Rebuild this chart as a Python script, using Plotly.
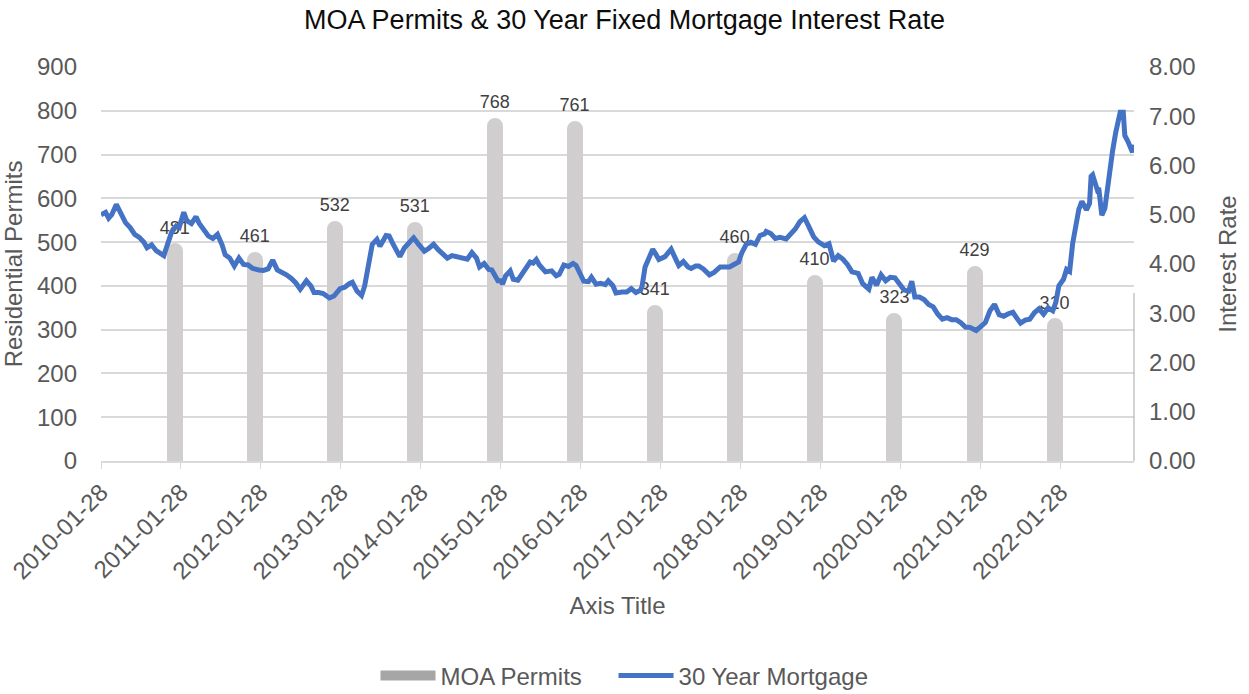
import plotly.graph_objects as go

# ---------------- data ----------------
bar_dates = ["2010-12-31", "2011-12-31", "2012-12-31", "2013-12-31", "2014-12-31", "2015-12-31",
             "2016-12-31", "2017-12-31", "2018-12-31", "2019-12-31", "2020-12-31", "2021-12-31"]
permits = [481, 461, 532, 531, 768, 761, 341, 460, 410, 323, 429, 310]

rate_dates = [
    "2010-01-28", "2010-02-18", "2010-03-04", "2010-03-18", "2010-04-08", "2010-04-29", "2010-05-20",
    "2010-06-10", "2010-07-01", "2010-07-22", "2010-08-12", "2010-08-26", "2010-09-16", "2010-10-07",
    "2010-10-28", "2010-11-11", "2010-11-25", "2010-12-16", "2011-01-06", "2011-01-20", "2011-02-10",
    "2011-02-24", "2011-03-17", "2011-04-07", "2011-04-21", "2011-05-12", "2011-06-02", "2011-06-23",
    "2011-07-14", "2011-08-04", "2011-08-18", "2011-09-08", "2011-09-29", "2011-10-20", "2011-11-10",
    "2011-12-01", "2011-12-22", "2012-01-19", "2012-02-09", "2012-03-01", "2012-03-22", "2012-04-12",
    "2012-05-03", "2012-05-24", "2012-06-14", "2012-07-05", "2012-07-26", "2012-08-23", "2012-09-13",
    "2012-09-27", "2012-10-18", "2012-11-08", "2012-12-06", "2012-12-27", "2013-01-24", "2013-02-14",
    "2013-03-07", "2013-03-21", "2013-04-11", "2013-05-02", "2013-05-16", "2013-05-30", "2013-06-20",
    "2013-07-11", "2013-07-25", "2013-08-22", "2013-09-05", "2013-09-19", "2013-10-10", "2013-10-24",
    "2013-11-14", "2013-12-05", "2013-12-26", "2014-01-16", "2014-02-13", "2014-03-06", "2014-03-27",
    "2014-04-17", "2014-05-08", "2014-05-29", "2014-06-19", "2014-07-17", "2014-08-07", "2014-08-28",
    "2014-09-18", "2014-10-09", "2014-10-23", "2014-11-13", "2014-12-04", "2014-12-18", "2015-01-15",
    "2015-01-29", "2015-02-05", "2015-02-19", "2015-03-12", "2015-03-26", "2015-04-16", "2015-05-07",
    "2015-06-11", "2015-06-25", "2015-07-09", "2015-07-23", "2015-08-20", "2015-09-17", "2015-10-08",
    "2015-10-22", "2015-11-12", "2015-12-03", "2015-12-24", "2016-01-07", "2016-01-28", "2016-02-11",
    "2016-03-03", "2016-03-17", "2016-04-07", "2016-04-28", "2016-05-19", "2016-06-02", "2016-06-23",
    "2016-07-07", "2016-08-04", "2016-08-25", "2016-09-15", "2016-10-06", "2016-10-27", "2016-11-03",
    "2016-11-17", "2016-12-01", "2016-12-22", "2017-01-05", "2017-01-19", "2017-02-16", "2017-03-16",
    "2017-04-06", "2017-04-20", "2017-05-11", "2017-06-01", "2017-06-15", "2017-07-06", "2017-07-20",
    "2017-08-10", "2017-09-07", "2017-09-28", "2017-10-26", "2017-11-16", "2017-12-07", "2017-12-28",
    "2018-01-18", "2018-02-01", "2018-02-22", "2018-03-15", "2018-04-05", "2018-04-26", "2018-05-17",
    "2018-05-24", "2018-06-14", "2018-07-05", "2018-07-26", "2018-08-23", "2018-09-13", "2018-10-04",
    "2018-10-25", "2018-11-15", "2018-12-06", "2018-12-27", "2019-01-17", "2019-02-14", "2019-03-07",
    "2019-03-28", "2019-04-18", "2019-05-09", "2019-05-30", "2019-06-20", "2019-07-18", "2019-08-08",
    "2019-09-05", "2019-09-19", "2019-10-10", "2019-10-31", "2019-11-21", "2019-12-12", "2020-01-02",
    "2020-01-23", "2020-02-13", "2020-03-05", "2020-03-19", "2020-04-02", "2020-04-23", "2020-05-14",
    "2020-06-04", "2020-06-25", "2020-07-16", "2020-08-06", "2020-08-27", "2020-09-17", "2020-10-08",
    "2020-10-29", "2020-11-19", "2020-12-10", "2021-01-07", "2021-01-28", "2021-02-18", "2021-03-11",
    "2021-04-01", "2021-04-22", "2021-05-13", "2021-06-03", "2021-06-24", "2021-07-15", "2021-07-29",
    "2021-08-19", "2021-09-09", "2021-09-30", "2021-10-21", "2021-11-11", "2021-12-02", "2021-12-23",
    "2022-01-06", "2022-01-20", "2022-02-10", "2022-02-24", "2022-03-10", "2022-03-24", "2022-04-07",
    "2022-04-21", "2022-05-05", "2022-05-26", "2022-06-09", "2022-06-16", "2022-06-23", "2022-06-30",
    "2022-07-14", "2022-07-21", "2022-07-28", "2022-08-04", "2022-08-18", "2022-09-01", "2022-09-22",
    "2022-10-06", "2022-10-20", "2022-10-27", "2022-11-10", "2022-11-17", "2022-12-01", "2022-12-15",
    "2022-12-22", "2022-12-29",
]
rates = [
    5.00, 5.05, 4.93, 5.00, 5.21, 5.02, 4.84,
    4.74, 4.60, 4.54, 4.44, 4.33, 4.39, 4.27,
    4.19, 4.17, 4.36, 4.64, 4.77, 4.74, 5.05,
    4.88, 4.82, 4.96, 4.83, 4.68, 4.57, 4.52,
    4.60, 4.39, 4.19, 4.12, 3.96, 4.12, 3.99,
    3.98, 3.91, 3.88, 3.87, 3.90, 4.08, 3.88,
    3.84, 3.78, 3.71, 3.62, 3.49, 3.66, 3.55,
    3.42, 3.42, 3.40, 3.31, 3.35, 3.50, 3.53,
    3.60, 3.63, 3.45, 3.36, 3.55, 3.90, 4.40,
    4.50, 4.36, 4.58, 4.57, 4.44, 4.25, 4.15,
    4.33, 4.45, 4.53, 4.41, 4.26, 4.32, 4.40,
    4.29, 4.21, 4.12, 4.17, 4.15, 4.14, 4.10,
    4.23, 4.12, 3.94, 4.01, 3.89, 3.88, 3.66,
    3.66, 3.59, 3.76, 3.86, 3.69, 3.67, 3.80,
    4.04, 4.02, 4.09, 3.98, 3.84, 3.86, 3.76,
    3.79, 3.98, 3.95, 4.01, 3.97, 3.79, 3.65,
    3.64, 3.73, 3.59, 3.61, 3.58, 3.66, 3.56,
    3.41, 3.43, 3.43, 3.50, 3.42, 3.47, 3.54,
    3.94, 4.08, 4.30, 4.20, 4.09, 4.15, 4.30,
    4.10, 3.97, 4.05, 3.94, 3.91, 3.96, 3.96,
    3.90, 3.78, 3.83, 3.94, 3.95, 3.94, 3.99,
    4.04, 4.22, 4.40, 4.44, 4.40, 4.58, 4.61,
    4.66, 4.62, 4.52, 4.54, 4.51, 4.60, 4.71,
    4.86, 4.94, 4.75, 4.55, 4.45, 4.37, 4.41,
    4.06, 4.17, 4.10, 3.99, 3.84, 3.81, 3.60,
    3.49, 3.73, 3.57, 3.78, 3.66, 3.73, 3.72,
    3.60, 3.47, 3.45, 3.65, 3.33, 3.33, 3.28,
    3.18, 3.13, 2.98, 2.88, 2.91, 2.87, 2.87,
    2.81, 2.72, 2.71, 2.65, 2.73, 2.81, 3.05,
    3.18, 2.97, 2.94, 2.99, 3.02, 2.88, 2.80,
    2.86, 2.88, 3.01, 3.09, 2.98, 3.11, 3.05,
    3.22, 3.56, 3.69, 3.89, 3.85, 4.42, 4.72,
    5.11, 5.27, 5.10, 5.23, 5.78, 5.81, 5.70,
    5.51, 5.54, 5.30, 4.99, 5.13, 5.66, 6.29,
    6.66, 6.94, 7.08, 7.08, 6.61, 6.49, 6.31,
    6.27, 6.42,
]

tick_dates = ["2010-01-28", "2011-01-28", "2012-01-28", "2013-01-28", "2014-01-28", "2015-01-28",
              "2016-01-28", "2017-01-28", "2018-01-28", "2019-01-28", "2020-01-28", "2021-01-28",
              "2022-01-28"]
permit_ticks = [0, 100, 200, 300, 400, 500, 600, 700, 800, 900]
rate_ticks = [0, 1, 2, 3, 4, 5, 6, 7, 8]

# ---------------- styling ----------------
FONT = "Arial, 'Liberation Sans', sans-serif"
GREY_TXT = "#595959"
GRID = "#d9d9d9"
BAR = "#d0cece"
BLUE = "#4472c4"
DAY_MS = 86400000
NB = "\u00a0"

fig = go.Figure()

fig.add_trace(go.Bar(
    x=bar_dates, y=permits, name="MOA Permits", showlegend=False,
    width=9 * DAY_MS,
    marker=dict(color=BAR, line=dict(color=BAR, width=14), cornerradius=1),
    hoverinfo="x+y",
))
# data labels for permits (drawn beneath the rate line)
fig.add_trace(go.Scatter(
    x=bar_dates, y=permits, mode="markers+text", showlegend=False,
    text=[str(v) for v in permits], textposition="top center",
    textfont=dict(family=FONT, size=18, color="#404040"),
    marker=dict(size=18, color="rgba(0,0,0,0)"),
    cliponaxis=False, hoverinfo="skip",
))
# legend entry for permits
fig.add_trace(go.Scatter(
    x=[None], y=[None], mode="lines", name="MOA Permits" + NB * 4,
    line=dict(color="#a6a6a6", width=13),
))
fig.add_trace(go.Scatter(
    x=rate_dates, y=rates, mode="lines", name="30 Year Mortgage", yaxis="y2",
    line=dict(color=BLUE, width=5),
))

fig.update_layout(
    width=1249, height=694,
    margin=dict(l=101, r=115, t=67, b=233),
    paper_bgcolor="white", plot_bgcolor="white",
    font=dict(family=FONT, size=24, color=GREY_TXT),
    title=dict(text="MOA Permits & 30 Year Fixed Mortgage Interest Rate",
               x=0.5, xref="container", xanchor="center",
               y=1 - 20 / 694, yref="container", yanchor="middle",
               font=dict(family=FONT, size=27, color="#0d0d0d")),
    xaxis=dict(
        type="date", range=["2010-01-28", "2022-12-29"], automargin=False,
        tickmode="array", tickvals=tick_dates, ticktext=tick_dates,
        tickangle=-45, tickfont=dict(size=24, color=GREY_TXT),
        ticks="outside", ticklen=6, tickcolor=GRID, tickwidth=1,
        showline=True, linecolor=GRID, linewidth=1.5,
        showgrid=False, zeroline=False,
        title=dict(text="Axis Title", font=dict(size=24, color=GREY_TXT), standoff=14),
    ),
    yaxis=dict(
        range=[0, 900], tickmode="array", tickvals=permit_ticks, automargin=False,
        showgrid=True, gridcolor=GRID, gridwidth=1.5,
        zeroline=False, showline=False, ticks="",
        ticklabelstandoff=23,
        tickfont=dict(size=24, color=GREY_TXT),
        title=dict(text="Residential Permits", font=dict(size=24, color=GREY_TXT), standoff=9),
    ),
    yaxis2=dict(
        range=[0, 8], overlaying="y", side="right", tickmode="array", tickvals=rate_ticks,
        tickformat=".2f", showgrid=False, zeroline=False, showline=False, ticks="",
        ticklabelstandoff=14, automargin=False,
        tickfont=dict(size=24, color=GREY_TXT),
        title=dict(text="Interest Rate", font=dict(size=24, color=GREY_TXT), standoff=24),
    ),
    legend=dict(
        orientation="h", xref="container", x=0.5, xanchor="center",
        yref="container", y=1 - 676 / 694, yanchor="middle",
        font=dict(size=24, color=GREY_TXT), itemwidth=55,
        traceorder="normal",
    ),
    bargap=0,
    shapes=[dict(type="line", xref="paper", yref="paper", x0=1, x1=1, y0=0,
                 y1=(461 - 293) / 394, line=dict(color="#a6a6a6", width=1))],
)

fig.write_html("out.html", config={"displayModeBar": False},
               post_script="document.body.style.margin='0';")
